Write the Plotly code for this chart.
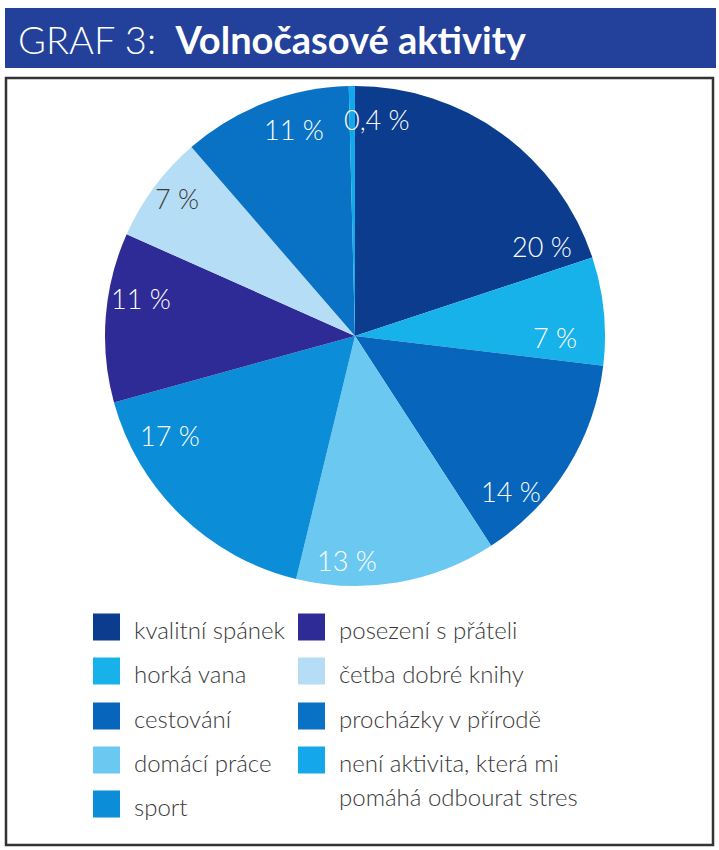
#!/usr/bin/env python3
"""
Pie chart: GRAF 3 - Volnočasové aktivity.
"""

import math
import textwrap
import plotly.graph_objects as go

# Data (clockwise from 12 o'clock)
categories = [
    'kvalitní spánek',
    'horká vana',
    'cestování',
    'domácí práce',
    'sport',
    'posezení s přáteli',
    'četba dobré knihy',
    'procházky v přírodě',
    'není aktivita, která mi pomáhá odbourat stres',
]
shares = [20, 7, 14, 13, 17, 11, 7, 11, 0.4]

colors = [
    '#0b3c8e',  # kvalitní spánek
    '#17b2ea',  # horká vana
    '#0766bb',  # cestování
    '#6bc9f1',  # domácí práce
    '#0b8dd7',  # sport
    '#2e2a96',  # posezení s přáteli
    '#b6ddf6',  # četba dobré knihy
    '#0a72c4',  # procházky v přírodě
    '#14a7ea',  # není aktivita
]
label_colors = ['white'] * 6 + ['#3a3a3a'] + ['white'] * 2

W, H = 719, 850
FONT = 'Lato'


def px(x):
    return x / W


def py(y):
    return 1 - y / H


# pie geometry (pixels)
cx, cy, R = 355, 336, 250

fig = go.Figure()

fig.add_trace(
    go.Pie(
        labels=categories,
        values=shares,
        sort=False,
        direction='clockwise',
        rotation=0,
        marker=dict(colors=colors, line=dict(width=0)),
        textinfo='none',
        hoverinfo='label+percent',
        showlegend=False,
        domain=dict(x=[px(cx - R), px(cx + R)], y=[py(cy + R), py(cy - R)]),
    )
)

# Percentage labels: placed inside the slice near the rim
# (t = position along the slice, r = fraction of radius)
label_t = [0.90, 0.75, 0.76, 0.75, 0.79, 0.64, 0.55, 0.62, 5.0]
label_r = [0.83, 0.80, 0.88, 0.90, 0.84, 0.87, 0.90, 0.86, 0.87]

annotations = []
total = sum(shares)
start = 0.0
for val, t, r, col in zip(shares, label_t, label_r, label_colors):
    span = val / total * 360
    ang = math.radians(start + t * span)
    x = cx + r * R * math.sin(ang)
    y = cy - r * R * math.cos(ang)
    txt = f"{val:g} %".replace('.', ',')
    annotations.append(dict(
        x=px(x), y=py(y), xref='paper', yref='paper',
        text=txt, showarrow=False,
        font=dict(family=FONT, size=27, color=col, weight=300),
        xanchor='center', yanchor='middle',
    ))
    start += span

# Header
shapes = [
    dict(type='rect', xref='paper', yref='paper',
         x0=px(5), x1=px(716), y0=py(68), y1=py(8),
         fillcolor='#23419a', line=dict(width=0), layer='below'),
    dict(type='rect', xref='paper', yref='paper',
         x0=px(6), x1=px(713), y0=py(845), y1=py(78),
         fillcolor='rgba(0,0,0,0)', line=dict(color='#333333', width=2.5)),
]
annotations.append(dict(
    x=px(16), y=py(39), xref='paper', yref='paper',
    text='<span style="font-weight:300">GRAF 3:</span>  <b>Volnočasové aktivity</b>',
    showarrow=False,
    font=dict(family=FONT, size=38, color='white'),
    xanchor='left', yanchor='middle',
))

# Manual legend, two columns (column-major)
col_x = [93, 298]
row_y = [627, 671, 716, 760, 804]
sq = 27
for i, (name, col) in enumerate(zip(categories, colors)):
    c, row = (0, i) if i < 5 else (1, i - 5)
    x0 = col_x[c]
    yc = row_y[row]
    shapes.append(dict(
        type='rect', xref='paper', yref='paper',
        x0=px(x0), x1=px(x0 + sq), y0=py(yc + sq / 2), y1=py(yc - sq / 2),
        fillcolor=col, line=dict(width=0),
    ))
    lines = textwrap.wrap(name, width=24)
    for k, line in enumerate(lines):
        annotations.append(dict(
            x=px(x0 + sq + 12), y=py(yc + 2 + k * 34), xref='paper', yref='paper',
            text=line, showarrow=False,
            font=dict(family=FONT, size=24, color='#3a3a3a', weight=300),
            xanchor='left', yanchor='middle',
        ))

fig.update_layout(
    width=W, height=H,
    margin=dict(l=0, r=0, t=0, b=0),
    paper_bgcolor='white',
    plot_bgcolor='white',
    shapes=shapes,
    annotations=annotations,
    showlegend=False,
)

fig.write_html(
    "out.html",
    config={'displayModeBar': False},
    post_script="document.body.style.margin='0';",
)
